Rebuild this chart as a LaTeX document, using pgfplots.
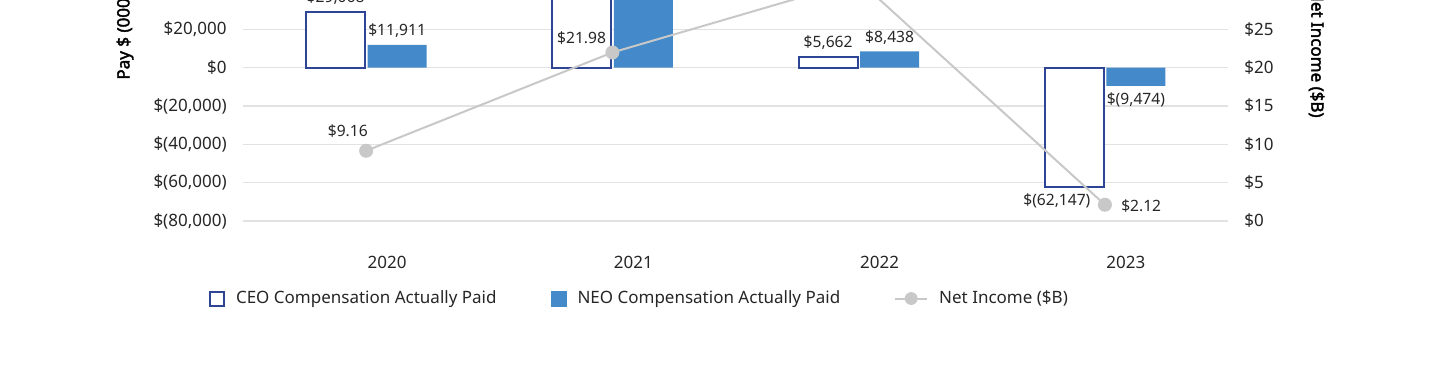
\documentclass[border=0pt]{standalone}
\usepackage{fontspec}
\setmainfont{Noto Sans}[AutoFakeBold=2.2]
\usepackage{pgfplots}
\pgfplotsset{compat=1.18}
\definecolor{ceoblue}{HTML}{2E4596}
\definecolor{neoblue}{HTML}{4489C9}
\definecolor{linegray}{HTML}{C8C8C8}
\definecolor{gridgray}{HTML}{E2E2E2}
\definecolor{txt}{HTML}{262626}
\newcommand{\tickfont}{\fontsize{8.5}{10}\selectfont}
\newcommand{\labfont}{\fontsize{7.8}{9}\selectfont}
\begin{document}
\begin{tikzpicture}
\path[use as bounding box] (0,0) rectangle (720pt,187.5pt);
\clip (0,0) rectangle (720pt,187.5pt);
\begin{axis}[
  at={(121.5pt,77pt)}, anchor=south west,
  scale only axis, width=492.5pt, height=191.67pt,
  xmin=-0.5, xmax=3.5, ymin=-80000, ymax=120000,
  ybar, bar width=29.5pt,
  x axis line style={draw=black!25, line width=0.6pt},
  y axis line style={draw=none},
  tick style={draw=none},
  ymajorgrids, grid style={gridgray, line width=0.6pt},
  ytick={-80000,-60000,-40000,-20000,0,20000,40000,60000,80000,100000,120000},
  yticklabels={{\$(80,000)},{\$(60,000)},{\$(40,000)},{\$(20,000)},{\$0},{\$20,000},{\$40,000},{\$60,000},{\$80,000},{\$100,000},{\$120,000}},
  xtick={0,1,2,3},
  xticklabels={2020,2021,2022,2023},
  /pgf/number format/assume math mode=true,
  ticklabel style={font=\tickfont, text=txt},
  yticklabel style={inner sep=0pt, xshift=-8pt},
  xticklabel style={anchor=base, inner sep=0pt, yshift=-19.5pt, xshift=10.5pt},
  nodes near coords style={font=\labfont, text=txt},
  point meta=explicit symbolic,
  legend style={at={(axis description cs:-0.0345,-0.2035)}, anchor=west, draw=none, fill=none,
    font=\tickfont, text=txt, inner sep=0pt, outer sep=0pt, legend columns=3,
    /tikz/every odd column/.append style={column sep=3.5pt},
    /tikz/every even column/.append style={column sep=25pt}},
  legend cell align=left,
]
\addplot[draw=ceoblue, fill=white, line width=1pt, bar shift=-15.25pt,
  legend image code/.code={\draw[draw=ceoblue, fill=white, line width=1pt] (0.5pt,-3.25pt) rectangle (7.5pt,3.75pt);}]
  coordinates {(0,29068) (1,80913) (2,5662) (3,-62147)};
\addlegendentry{CEO Compensation Actually Paid}
\addplot[draw=none, fill=none, bar shift=-15.25pt, forget plot, nodes near coords,
  every node near coord/.append style={anchor=south}]
  coordinates {(0,29068)[\$29,068] (1,80913)[\$80,913] (2,5662)[\$5,662]};
\addplot[draw=none, fill=none, bar shift=-15.25pt, forget plot, nodes near coords,
  every node near coord/.append style={anchor=north, xshift=-8.75pt}]
  coordinates {(3,-62147)[\$(62,147)]};
\addplot[draw=none, fill=neoblue, bar shift=15.5pt,
  legend image code/.code={\fill[neoblue] (0pt,-3.75pt) rectangle (8pt,4.25pt);}]
  coordinates {(0,11911) (1,38224) (2,8438) (3,-9474)};
\addlegendentry{NEO Compensation Actually Paid}
\addplot[draw=none, fill=none, bar shift=15.5pt, forget plot, nodes near coords,
  every node near coord/.append style={anchor=south}]
  coordinates {(0,11911)[\$11,911] (1,38224)[\$38,224] (2,8438)[\$8,438]};
\addplot[draw=none, fill=none, bar shift=15.5pt, forget plot, nodes near coords,
  every node near coord/.append style={anchor=north}]
  coordinates {(3,-9474)[\$(9,474)]};
\addlegendimage{legend image code/.code={\draw[linegray, line width=1pt] (0pt,0.25pt) -- (16pt,0.25pt); \fill[linegray] (8pt,0.25pt) circle (3pt);}}
\addlegendentry{Net Income (\$B)}
\end{axis}
\begin{axis}[
  at={(121.5pt,77pt)}, anchor=south west,
  scale only axis, width=492.5pt, height=191.67pt,
  xmin=-0.5, xmax=3.5, ymin=0, ymax=50,
  axis y line*=right, axis x line=none,
  axis line style={draw=none},
  tick style={draw=none},
  ytick={0,5,10,15,20,25,30,35,40,45,50},
  yticklabels={{\$0},{\$5},{\$10},{\$15},{\$20},{\$25},{\$30},{\$35},{\$40},{\$45},{\$50}},
  /pgf/number format/assume math mode=true,
  ticklabel style={font=\tickfont, text=txt},
  yticklabel style={inner sep=0pt, xshift=8pt},
  nodes near coords style={font=\labfont, text=txt},
  clip=false,
]
\addplot[linegray, line width=1pt, mark=*, mark size=3pt, mark options={fill=linegray, draw=linegray}]
  coordinates {(0,9.16) (1,21.98) (2,31.37) (3,2.12)};
\addplot[draw=none, nodes near coords, point meta=explicit symbolic,
  every node near coord/.append style={anchor=base east, inner sep=0pt, xshift=1pt, yshift=7pt}]
  coordinates {(0,9.16)[\$9.16]};
\addplot[draw=none, nodes near coords, point meta=explicit symbolic,
  every node near coord/.append style={anchor=base east, inner sep=0pt, xshift=-3pt, yshift=4.5pt}]
  coordinates {(1,21.98)[\$21.98]};
\addplot[draw=none, nodes near coords, point meta=explicit symbolic,
  every node near coord/.append style={anchor=south, yshift=4pt}]
  coordinates {(2,31.37)[\$31.37]};
\addplot[draw=none, nodes near coords, point meta=explicit symbolic,
  every node near coord/.append style={anchor=west, inner sep=0pt, xshift=8pt, yshift=-0.8pt}]
  coordinates {(3,2.12)[\$2.12]};
\end{axis}
\node[rotate=90, anchor=west, inner sep=0pt, font=\bfseries\tickfont, text=black] at (62.5pt,147.5pt) {Pay \$ (000s)};
\node[rotate=-90, anchor=east, inner sep=0pt, font=\bfseries\tickfont, text=black] at (658.25pt,128.5pt) {Net Income (\$B)};
\end{tikzpicture}
\end{document}
